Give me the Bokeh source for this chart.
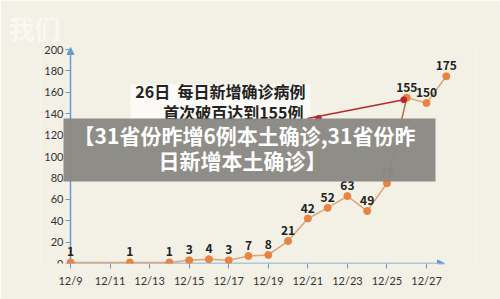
from bokeh.plotting import figure
from bokeh.models import (Range1d, FixedTicker, Label, LabelSet, BoxAnnotation,
                          Arrow, NormalHead, ColumnDataSource)
from bokeh.core.properties import value
from bokeh.embed import file_html
from bokeh.resources import INLINE

# ---- data ----
dates = ["12/9", "12/12", "12/14", "12/15", "12/16", "12/17", "12/18", "12/19",
         "12/20", "12/21", "12/22", "12/23", "12/24", "12/25", "12/26", "12/27", "12/28"]
cases = [1, 1, 1, 3, 4, 3, 7, 8, 21, 42, 52, 63, 49, 75, 155, 150, 175]
x_tick_labels = ["12/9", "12/11", "12/13", "12/15", "12/17", "12/19",
                 "12/21", "12/23", "12/25", "12/27"]
y_ticks = [0, 20, 40, 60, 80, 100, 120, 140, 160, 180, 200]
title_line1 = "26日  每日新增确诊病例"
title_line2 = "首次破百达到155例"
banner_line1 = "【31省份昨增6例本土确诊,31省份昨"
banner_line2 = "日新增本土确诊】"
watermark = "我们"

days = [int(d.split("/")[1]) - 9 for d in dates]
x_tick_pos = [int(d.split("/")[1]) - 9 for d in x_tick_labels]

BG = "#f3f0e6"
AXIS = "#6a9bd0"
FONT = "Noto Sans CJK SC"

# pixel -> data helpers (day 0 at px 70, value 0 at px 263)
PXD = 19.78
PYU = 1.07
FL, FT = 40, 45  # frame left / top in px
def dx(px):
    return (px - 70) / PXD
def dy(py):
    return (263 - py) / PYU

p = figure(width=500, height=299, output_backend="svg", toolbar_location=None,
           x_range=Range1d(dx(FL), dx(475)), y_range=Range1d(0, dy(FT)),
           min_border_left=FL, min_border_right=25, min_border_top=FT, min_border_bottom=36)
p.background_fill_color = BG
p.border_fill_color = BG
p.outline_line_color = None
p.grid.visible = False

# watermark as title in the top panel
p.title.text = watermark
p.title.align = "left"
p.title.offset = -32
p.title.standoff = 0
p.title.text_font = FONT
p.title.text_font_style = "bold"
p.title.text_font_size = "26px"
p.title.text_color = "#f9f8f3"

for ax in (p.xaxis[0], p.yaxis[0]):
    ax.axis_line_color = None
    ax.major_tick_line_color = AXIS
    ax.major_tick_line_width = 1
    ax.major_tick_out = 5
    ax.major_tick_in = 0
    ax.minor_tick_line_color = None
    ax.major_label_text_font = "Lato"
    ax.major_label_text_font_size = "11px"
    ax.major_label_text_color = "#333333"
p.xaxis.ticker = FixedTicker(ticks=x_tick_pos)
p.xaxis.major_label_overrides = {t: l for t, l in zip(x_tick_pos, x_tick_labels)}
p.xaxis.major_label_standoff = 5
p.yaxis.ticker = FixedTicker(ticks=y_ticks)
p.yaxis.major_label_standoff = 2
p.yaxis.fixed_location = 0

# axis arrows
p.add_layout(Arrow(end=NormalHead(size=7, fill_color=AXIS, line_color=AXIS),
                   x_start=0, y_start=0, x_end=dx(444), y_end=0,
                   line_color=AXIS, line_width=1.5, level="underlay"))
p.add_layout(Arrow(end=NormalHead(size=7, fill_color=AXIS, line_color=AXIS),
                   x_start=0, y_start=0, x_end=0, y_end=dy(47),
                   line_color=AXIS, line_width=1.5, level="underlay"))

# data line
src = ColumnDataSource(dict(x=days, y=cases, lab=[str(c) for c in cases]))
p.line("x", "y", source=src, line_color="#dca676", line_width=1.5)
p.line(days[13:15], cases[13:15], line_color="#a07a5a", line_width=1.3)
p.scatter("x", "y", source=src, size=7, fill_color="#e8843f", line_color="#e8843f")
p.add_layout(LabelSet(x="x", y="y", text="lab", source=src, text_align="center",
                      text_baseline="bottom", y_offset=6, text_font=value(FONT),
                      text_font_style="bold", text_font_size="12px", text_color="#222222"))

# annotation box with pointer
p.add_layout(BoxAnnotation(left=dx(130), right=dx(310), top=dy(84), bottom=dy(125),
                           fill_color="#fbfaf6", fill_alpha=1, line_color=None, level="underlay"))
p.add_layout(Label(x=dx(305), y=dy(90), text=title_line1.replace(" ", "\u00a0"),
                   text_align="right", text_baseline="middle", text_font=FONT,
                   text_font_style="bold", text_font_size="16px", text_color="#222222"))
p.add_layout(Label(x=dx(303), y=dy(111), text=title_line2, text_align="right",
                   text_baseline="middle", text_font=FONT, text_font_style="bold",
                   text_font_size="16px", text_color="#222222"))
p.line([dx(307), days[14] - 0.15], [dy(118), cases[14] - 2], line_color="#b8282a", line_width=1.5)
p.scatter([dx(318), days[14] - 0.15], [dy(118), cases[14] - 2], size=6,
          fill_color="#b8282a", line_color="#b8282a")

# overlay banner
p.add_layout(BoxAnnotation(left=dx(63), right=dx(435), top=dy(118), bottom=dy(181),
                           fill_color="#8a8984", fill_alpha=0.97, line_color=None))
p.add_layout(Label(x=dx(244), y=dy(134), text=banner_line1, text_align="center",
                   text_baseline="middle", text_font=FONT, text_font_style="bold",
                   text_font_size="21px", text_color="#ffffff"))
p.add_layout(Label(x=dx(242), y=dy(159), text=banner_line2, text_align="center",
                   text_baseline="middle", text_font=FONT, text_font_style="bold",
                   text_font_size="21px", text_color="#ffffff"))

open("out.html", "w").write(file_html(p, INLINE))
